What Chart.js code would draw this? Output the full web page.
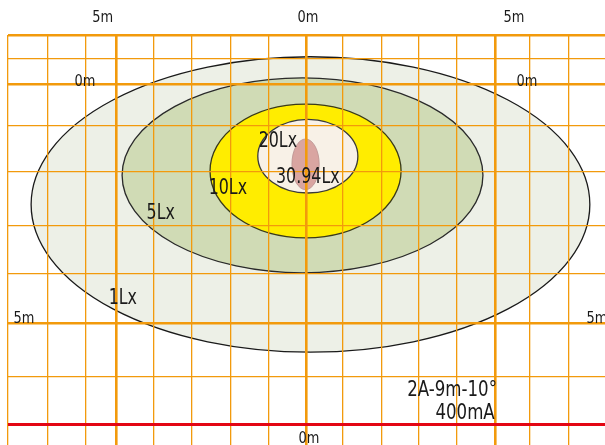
<!DOCTYPE html>
<html>
<head>
<meta charset="utf-8">
<script src="https://cdn.jsdelivr.net/npm/chart.js@4.4.1/dist/chart.umd.min.js"></script>
<style>
  html, body { margin: 0; padding: 0; background: #fff; }
  #wrap { width: 605px; height: 445px; }
</style>
</head>
<body>
<div id="wrap"><canvas id="isolux"></canvas></div>
<script>
// isolux contours, in metres from the lamp axis
const levels = ['1Lx', '5Lx', '10Lx', '20Lx', '30.94Lx'];
const centerX = [0.12, -0.09, -0.01, 0.05, -0.01];
const centerY = [2.52, 1.91, 1.82, 1.51, 1.68];
const radiusX = [7.37, 4.76, 2.52, 1.32, 0.36];
const radiusY = [3.09, 2.04, 1.40, 0.77, 0.53];

// where the level names sit
const labelX = [-4.83, -3.83, -2.06, -0.74, 0.05];
const labelY = [4.48, 2.72, 2.18, 1.21, 1.95];

// grid lines
const gridX = [-7.86, -6.81, -5.8, -5, -4.01, -3.01, -1.98, -0.98, 0, 0.98, 2.01, 2.98, 3.98, 5, 5.91, 6.94];
const gridY = [-1.025, -0.52, 0, 0.88, 1.84, 2.97, 3.97, 5, 6.13, 7.13];

// distance marks round the edge
const axisText = ['5m', '0m', '5m', '0m', '0m', '5m', '5m', '0m'];
const axisX = [-5.36, 0.05, 5.49, -5.83, 5.83, -7.44, 7.68, 0.08];
const axisY = [-1.38, -1.38, -1.38, -0.04, -0.04, 4.92, 4.92, 7.43];

const caption = ['2A-9m-10°', '400mA'];

const fills = ['#edf0e7', '#d0dbb5', '#ffed00', '#f8f1e7', '#d9a5a1'];
const strokes = ['#1a1a1a', '#2a2a2a', '#3a3a1a', '#3a3a3a', '#b9918f'];
const FONT = '"DejaVu Sans Condensed", "DejaVu Sans", sans-serif';
const ORANGE = '#f29a0c';

// the original lettering is a narrow face, so squeeze it sideways
function narrowText(ctx, text, px, py, squeeze) {
  ctx.save();
  ctx.translate(px, py);
  ctx.scale(squeeze, 1);
  ctx.fillText(text, 0, 0);
  ctx.restore();
}

const isoluxPlugin = {
  id: 'isolux',
  beforeDatasetsDraw(chart) {
    const { ctx, scales: { x, y } } = chart;
    ctx.save();
    levels.forEach((lv, i) => {
      const cx = x.getPixelForValue(centerX[i]);
      const cy = y.getPixelForValue(centerY[i]);
      const rx = Math.abs(x.getPixelForValue(centerX[i] + radiusX[i]) - cx);
      const ry = Math.abs(y.getPixelForValue(centerY[i] + radiusY[i]) - cy);
      ctx.beginPath();
      ctx.ellipse(cx, cy, rx, ry, 0, 0, Math.PI * 2);
      ctx.fillStyle = fills[i];
      ctx.fill();
      ctx.lineWidth = i === 4 ? 0.8 : 1.3;
      ctx.strokeStyle = strokes[i];
      ctx.stroke();
    });
    ctx.restore();
  },
  afterDraw(chart) {
    const { ctx, scales: { x, y } } = chart;
    ctx.save();
    ctx.fillStyle = '#1a1a1a';
    ctx.textBaseline = 'middle';
    ctx.textAlign = 'center';

    // level names, on the hidden points of the dataset
    ctx.font = '21px ' + FONT;
    chart.getDatasetMeta(0).data.forEach((pt, i) => {
      narrowText(ctx, levels[i], pt.x, pt.y, 0.84);
    });

    ctx.font = '16px ' + FONT;
    axisText.forEach((t, i) => {
      narrowText(ctx, t, x.getPixelForValue(axisX[i]), y.getPixelForValue(axisY[i]), 0.9);
    });

    ctx.font = '22px ' + FONT;
    ctx.textAlign = 'right';
    narrowText(ctx, caption[0], x.getPixelForValue(5.04), y.getPixelForValue(6.40), 0.84);
    narrowText(ctx, caption[1], x.getPixelForValue(4.98), y.getPixelForValue(6.88), 0.84);
    ctx.restore();
  }
};

const thickX = [-5, 0, 5];
const thickY = [-1.025, 0, 5];

new Chart(document.getElementById('isolux'), {
  type: 'scatter',
  data: {
    datasets: [{
      label: 'levels',
      data: levels.map((l, i) => ({ x: labelX[i], y: labelY[i] })),
      pointRadius: 0,
      showLine: false
    }]
  },
  options: {
    responsive: true,
    maintainAspectRatio: false,
    animation: false,
    layout: { padding: { left: 8, top: 35, right: 0, bottom: 0 } },
    plugins: { legend: { display: false }, tooltip: { enabled: false } },
    scales: {
      x: {
        type: 'linear',
        min: -7.86,
        max: 7.89,
        afterBuildTicks: (scale) => { scale.ticks = gridX.map(v => ({ value: v })); },
        ticks: { display: false },
        border: { display: false },
        grid: {
          z: 1,
          drawTicks: false,
          color: ORANGE,
          lineWidth: (c) => thickX.includes(c.tick && c.tick.value) ? 2.6 : 1.3
        }
      },
      y: {
        type: 'linear',
        reverse: true,
        min: -1.025,
        max: 7.552,
        afterBuildTicks: (scale) => { scale.ticks = gridY.map(v => ({ value: v })); },
        ticks: { display: false },
        border: { display: false },
        grid: {
          z: 1,
          drawTicks: false,
          color: (c) => (c.tick && c.tick.value === 7.13) ? '#e30613' : ORANGE,
          lineWidth: (c) => {
            const v = c.tick && c.tick.value;
            if (v === 7.13) return 3;
            return thickY.includes(v) ? 2.6 : 1.3;
          }
        }
      }
    }
  },
  plugins: [isoluxPlugin]
});
</script>
</body>
</html>
